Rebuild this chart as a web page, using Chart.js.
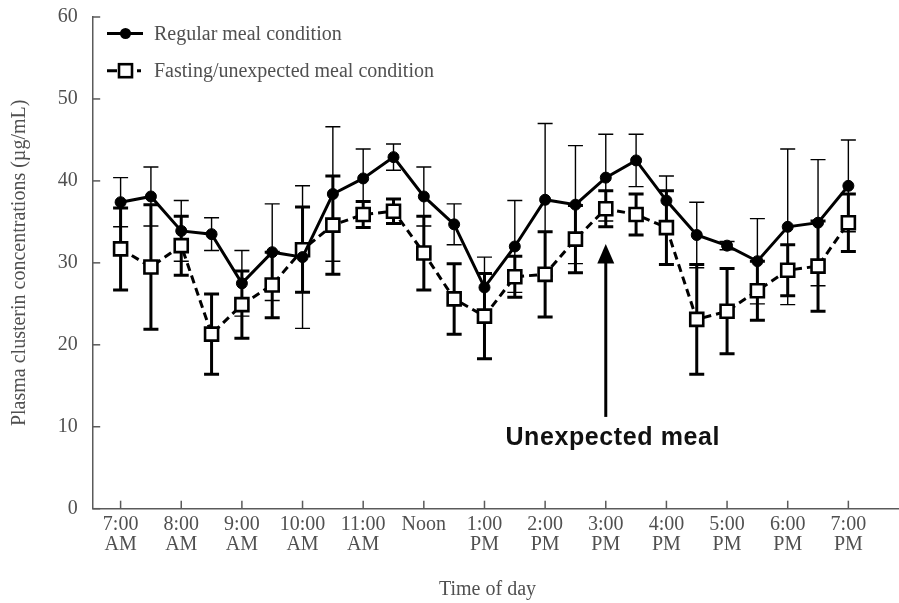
<!DOCTYPE html>
<html>
<head>
<meta charset="utf-8">
<script src="https://cdn.jsdelivr.net/npm/chart.js@4.4.1/dist/chart.umd.min.js"></script>
<style>
  html, body { margin: 0; padding: 0; background: #ffffff; overflow: hidden; }
  #wrap { width: 899px; height: 603px; overflow: hidden; }
  canvas { display: block; }
</style>
</head>
<body>
<div id="wrap"><canvas id="c" width="899" height="603" style="width:899px;height:603px"></canvas></div>
<script>
// ---- data ----
const hourLabels = [
  ['7:00', 'AM'], ['8:00', 'AM'], ['9:00', 'AM'], ['10:00', 'AM'], ['11:00', 'AM'], ['Noon', ''],
  ['1:00', 'PM'], ['2:00', 'PM'], ['3:00', 'PM'], ['4:00', 'PM'], ['5:00', 'PM'], ['6:00', 'PM'], ['7:00', 'PM']
];
const timeIndex = [0,1,2,3,4,5,6,7,8,9,10,11,12,13,14,15,16,17,18,19,20,21,22,23,24];
const regularMean = [37.4, 38.1, 33.9, 33.5, 27.5, 31.3, 30.7, 38.4, 40.3, 42.9, 38.1, 34.7, 27.0, 32.0, 37.7, 37.1, 40.4, 42.5, 37.6, 33.4, 32.1, 30.2, 34.4, 34.9, 39.4];
const regularSD   = [3.0, 3.6, 3.7, 2.0, 4.0, 5.9, 8.7, 8.2, 3.6, 1.6, 3.6, 2.5, 3.7, 5.6, 9.3, 7.2, 5.3, 3.2, 3.0, 4.0, 0.5, 5.2, 9.5, 7.7, 5.6];
const fastingMean = [31.7, 29.5, 32.1, 21.3, 24.9, 27.3, 31.6, 34.6, 35.9, 36.3, 31.2, 25.6, 23.5, 28.3, 28.6, 32.9, 36.6, 35.9, 34.3, 23.1, 24.1, 26.6, 29.1, 29.6, 34.9];
const fastingSD   = [5.0, 7.6, 3.6, 4.9, 4.1, 4.0, 5.2, 6.0, 1.6, 1.5, 4.5, 4.3, 5.2, 2.5, 5.2, 4.1, 2.2, 2.5, 4.5, 6.7, 5.2, 3.6, 3.1, 5.5, 3.5];
const yTicks = [0, 10, 20, 30, 40, 50, 60];
const seriesNames = ['Regular meal condition', 'Fasting/unexpected meal condition'];
const yTitle = 'Plasma clusterin concentrations (\u00b5g/mL)';
const xTitle = 'Time of day';
const annotationText = 'Unexpected meal';
const mealIndex = 16;
const arrowFrom = 11.2, arrowTo = 32.3, annotationY = 8.6;

const SERIF = '"Liberation Serif", "DejaVu Serif", serif';
const TEXT = '#505050';
const AXIS = '#5a5a5a';

const toPts = (arr) => arr.map((v, i) => ({ x: timeIndex[i], y: v }));

const errorBars = {
  id: 'errorBars',
  beforeDatasetsDraw(chart) {
    const { ctx, scales: { x, y } } = chart;
    const sets = [
      { mean: regularMean, sd: regularSD, w: 1.4 },
      { mean: fastingMean, sd: fastingSD, w: 3 }
    ];
    ctx.save();
    ctx.strokeStyle = '#000';
    sets.forEach(s => {
      ctx.lineWidth = s.w;
      s.mean.forEach((m, i) => {
        const px = x.getPixelForValue(timeIndex[i]);
        const top = y.getPixelForValue(m + s.sd[i]);
        const bot = y.getPixelForValue(m - s.sd[i]);
        ctx.beginPath();
        ctx.moveTo(px, top); ctx.lineTo(px, bot);
        ctx.moveTo(px - 7.5, top); ctx.lineTo(px + 7.5, top);
        ctx.moveTo(px - 7.5, bot); ctx.lineTo(px + 7.5, bot);
        ctx.stroke();
      });
    });
    ctx.restore();
  },
  afterDraw(chart) {
    const { ctx, scales: { x, y } } = chart;
    ctx.save();
    // inward ticks
    ctx.strokeStyle = AXIS;
    ctx.lineWidth = 1.5;
    const ax = x.left, ay = y.bottom;
    yTicks.forEach(v => {
      const py = y.getPixelForValue(v);
      ctx.beginPath(); ctx.moveTo(ax, py); ctx.lineTo(ax + 7.5, py); ctx.stroke();
    });
    hourLabels.forEach((l, k) => {
      const px = x.getPixelForValue(k * 2);
      ctx.beginPath(); ctx.moveTo(px, ay); ctx.lineTo(px, ay - 8); ctx.stroke();
    });
    // x title
    ctx.fillStyle = TEXT;
    ctx.font = '20px ' + SERIF;
    ctx.textAlign = 'center';
    ctx.textBaseline = 'middle';
    ctx.fillText(xTitle, x.getPixelForValue(12.1), 590);

    // legend
    ctx.strokeStyle = '#000';
    ctx.fillStyle = '#000';
    ctx.lineWidth = 3;
    const ly1 = 33.5, ly2 = 70.7;
    ctx.beginPath(); ctx.moveTo(107, ly1); ctx.lineTo(143, ly1); ctx.stroke();
    ctx.beginPath(); ctx.arc(125.5, ly1, 5.5, 0, Math.PI * 2); ctx.fill();
    ctx.beginPath(); ctx.moveTo(107, ly2); ctx.lineTo(117, ly2); ctx.moveTo(137, ly2); ctx.lineTo(141, ly2); ctx.stroke();
    ctx.fillStyle = '#fff';
    ctx.lineWidth = 2.6;
    ctx.fillRect(119, ly2 - 6.5, 13, 13);
    ctx.strokeRect(119, ly2 - 6.5, 13, 13);
    ctx.fillStyle = TEXT;
    ctx.font = '20px ' + SERIF;
    ctx.textAlign = 'left';
    ctx.textBaseline = 'middle';
    ctx.fillText(seriesNames[0], 154, ly1 + 1);
    ctx.fillText(seriesNames[1], 154, ly2 + 1);

    // arrow annotation
    const mx = x.getPixelForValue(mealIndex);
    const yb = y.getPixelForValue(arrowFrom);
    const yt = y.getPixelForValue(arrowTo);
    ctx.strokeStyle = '#000';
    ctx.fillStyle = '#000';
    ctx.lineWidth = 3;
    ctx.beginPath(); ctx.moveTo(mx, yb); ctx.lineTo(mx, yt + 15); ctx.stroke();
    ctx.beginPath();
    ctx.moveTo(mx, yt); ctx.lineTo(mx - 8.5, yt + 19.5); ctx.lineTo(mx + 8.5, yt + 19.5); ctx.closePath(); ctx.fill();
    ctx.font = 'bold 25px "Liberation Sans", Arial, sans-serif';
    ctx.textAlign = 'center';
    ctx.textBaseline = 'middle';
    try { ctx.letterSpacing = '0.6px'; } catch (e) {}
    ctx.fillStyle = '#111';
    ctx.fillText(annotationText, x.getPixelForValue(mealIndex) + 7, y.getPixelForValue(annotationY));
    ctx.restore();
  }
};

new Chart(document.getElementById('c'), {
  type: 'line',
  data: {
    datasets: [
      {
        label: seriesNames[0],
        data: toPts(regularMean),
        borderColor: '#000',
        backgroundColor: '#000',
        borderWidth: 3,
        pointStyle: 'circle',
        pointRadius: 5.5,
        pointBackgroundColor: '#000',
        pointBorderColor: '#000',
        pointBorderWidth: 1,
        tension: 0
      },
      {
        label: seriesNames[1],
        data: toPts(fastingMean),
        borderColor: '#000',
        backgroundColor: '#fff',
        borderWidth: 3,
        borderDash: [8, 5],
        pointStyle: 'rect',
        pointRadius: 9.2,
        pointBackgroundColor: '#fff',
        pointBorderColor: '#000',
        pointBorderWidth: 2.6,
        tension: 0
      }
    ]
  },
  options: {
    responsive: false,
    animation: false,
    devicePixelRatio: 1,
    layout: { autoPadding: false, padding: { top: 17, right: 0, left: 0, bottom: 0 } },
    plugins: { legend: { display: false }, tooltip: { enabled: false } },
    scales: {
      x: {
        type: 'linear',
        min: -0.92,
        max: 25.67,
        afterBuildTicks(scale) {
          scale.ticks = hourLabels.map((l, k) => ({ value: k * 2 }));
        },
        afterFit(scale) { scale.height = 94.3; scale.paddingLeft = 0; scale.paddingRight = 0; },
        grid: { display: true, drawOnChartArea: false, drawTicks: false },
        border: { display: true, color: AXIS, width: 1.5 },
        ticks: {
          autoSkip: false,
          maxRotation: 0,
          padding: 6,
          color: TEXT,
          font: { family: SERIF, size: 20, lineHeight: 1.0 },
          callback(value) { return hourLabels[Math.round(value / 2)]; }
        }
      },
      y: {
        type: 'linear',
        min: 0,
        max: 60,
        afterBuildTicks(scale) { scale.ticks = yTicks.map(v => ({ value: v })); },
        afterFit(scale) { scale.width = 92.7; scale.paddingTop = 0; scale.paddingBottom = 0; scale.paddingLeft = 0; scale.paddingRight = 0; },
        grid: { display: true, drawOnChartArea: false, drawTicks: false },
        border: { display: true, color: AXIS, width: 1.5 },
        ticks: {
          padding: 15,
          color: TEXT,
          font: { family: SERIF, size: 20 }
        },
        title: {
          display: true,
          text: yTitle,
          color: TEXT,
          font: { family: SERIF, size: 20, lineHeight: 1.0 },
          padding: { top: 10, bottom: 0 }
        }
      }
    }
  },
  plugins: [errorBars]
});
</script>
</body>
</html>
